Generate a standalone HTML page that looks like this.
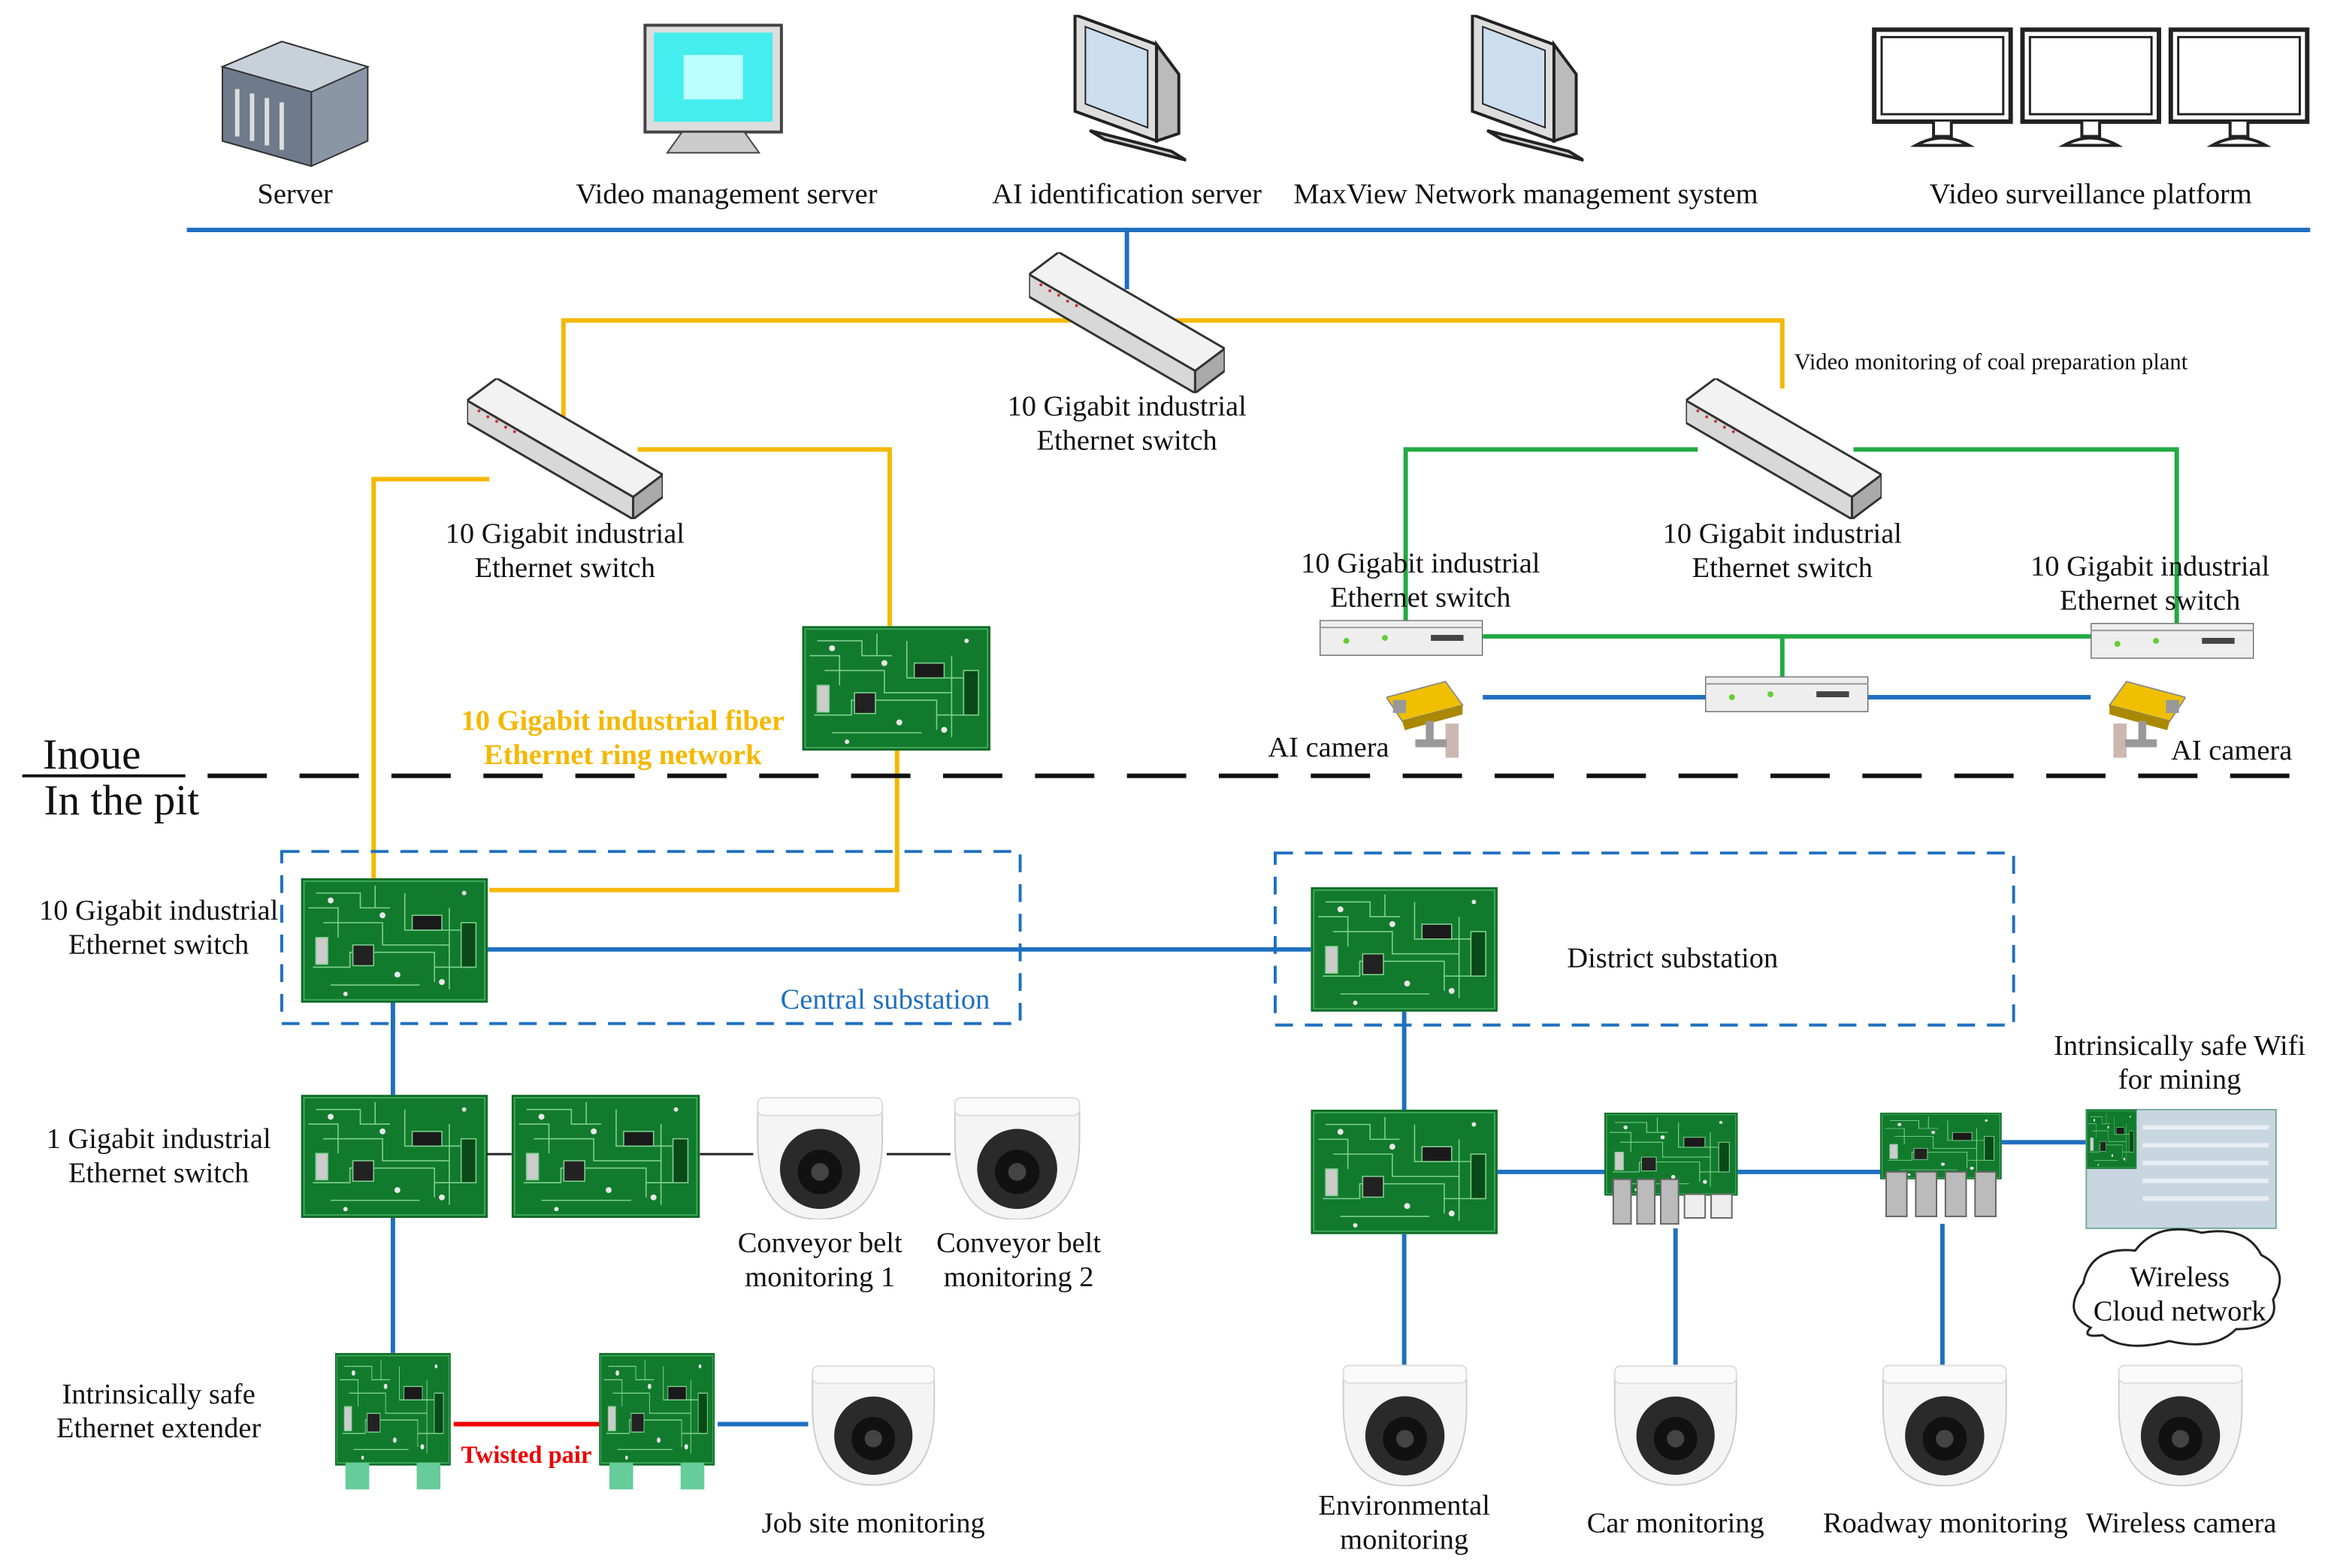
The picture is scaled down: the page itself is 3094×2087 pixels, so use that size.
<!DOCTYPE html>
<html><head><meta charset="utf-8"><style>
html,body{margin:0;padding:0;background:#fff}
svg{display:block}
text{font-family:"Liberation Serif",serif;font-size:19.5px;fill:#111}
</style></head><body>
<svg width="3094" height="2087" viewBox="0 0 1568 1057" preserveAspectRatio="none" xmlns="http://www.w3.org/2000/svg">
<defs>
<symbol id="pcb" viewBox="0 0 126 84" preserveAspectRatio="none">
<rect x="0" y="0" width="126" height="84" fill="#0e6b26"/>
<rect x="2" y="2" width="122" height="80" fill="#127a2d" stroke="#3fa85a" stroke-width="1"/>
<g stroke="#7fd08f" stroke-width="0.8" fill="none">
<path d="M10 10h30v10h20M15 30h40v15h30M8 60h25v-10h40M70 10v25h40M90 60h25M20 72h60M100 20v40M60 50h30v20M5 20h20v20M50 5v15M80 45h20v30"/>
<rect x="35" y="45" width="14" height="14" fill="#222"/>
<rect x="75" y="25" width="20" height="10" fill="#1a1a1a"/>
<rect x="10" y="40" width="8" height="18" fill="#ccc"/>
<rect x="108" y="30" width="10" height="30" fill="#0a4a18"/>
</g>
<g fill="#e8e8e8"><circle cx="20" cy="15" r="2"/><circle cx="55" cy="25" r="2"/><circle cx="95" cy="70" r="2"/><circle cx="65" cy="65" r="2"/><circle cx="30" cy="78" r="1.5"/><circle cx="110" cy="10" r="1.5"/></g>
</symbol>
<symbol id="sw3d" viewBox="0 0 132 95">
<polygon points="0,15 20,0 132,65 112,80" fill="#f2f2f2" stroke="#333" stroke-width="1.5"/>
<polygon points="0,15 112,80 112,95 0,30" fill="#d8d8d8" stroke="#333" stroke-width="1.5"/>
<polygon points="112,80 132,65 132,80 112,95" fill="#aaa" stroke="#333" stroke-width="1.5"/>
<g fill="#c33"><circle cx="8" cy="22" r="1"/><circle cx="14" cy="26" r="1"/><circle cx="20" cy="29" r="1"/><circle cx="26" cy="33" r="1"/><circle cx="32" cy="36" r="1"/></g>
</symbol>
<symbol id="flat" viewBox="0 0 110 24">
<rect x="0" y="0" width="110" height="24" fill="#eee" stroke="#555" stroke-width="1.2"/>
<line x1="0" y1="5" x2="110" y2="5" stroke="#999"/>
<circle cx="18" cy="14" r="2" fill="#6c3"/><circle cx="44" cy="12" r="2" fill="#6c3"/>
<rect x="75" y="10" width="22" height="4" fill="#444"/>
</symbol>
<symbol id="dome" viewBox="0 0 90 84">
<path d="M3 8 Q45 0 87 8 L87 30 Q87 84 45 84 Q3 84 3 30Z" fill="#f4f4f4" stroke="#ccc"/>
<rect x="3" y="2" width="84" height="12" rx="4" fill="#fafafa" stroke="#ddd"/>
<circle cx="45" cy="50" r="27" fill="#2a2a2a"/>
<circle cx="45" cy="52" r="15" fill="#111"/>
<circle cx="45" cy="52" r="6" fill="#444"/>
</symbol>
<symbol id="crt" viewBox="0 0 80 100">
<polygon points="5,0 60,20 60,85 5,65" fill="#ddd" stroke="#222" stroke-width="2"/>
<polygon points="12,8 54,24 54,76 12,60" fill="#cde" stroke="#222"/>
<polygon points="60,20 75,40 75,80 60,85" fill="#bbb" stroke="#222" stroke-width="2"/>
<polygon points="15,78 70,92 80,98 25,84" fill="#ccc" stroke="#222" stroke-width="2"/>
</symbol>
<symbol id="mon" viewBox="0 0 96 84">
<rect x="2" y="2" width="92" height="62" fill="#fff" stroke="#222" stroke-width="3"/>
<rect x="7" y="7" width="82" height="52" fill="#fff" stroke="#222" stroke-width="1.5"/>
<path d="M42 64v10h12v-10M30 80q18-10 36 0z" fill="#fff" stroke="#222" stroke-width="2"/>
</symbol>
<symbol id="cam" viewBox="0 0 70 60">
<polygon points="0,12 45,0 58,18 12,30" fill="#f0c000" stroke="#888"/>
<polygon points="12,30 58,18 58,25 14,37" fill="#aa8800"/>
<rect x="5" y="14" width="10" height="10" fill="#999"/>
<rect x="30" y="30" width="6" height="18" fill="#999"/>
<rect x="45" y="32" width="10" height="26" fill="#ccb8b0"/>
<rect x="22" y="44" width="24" height="6" fill="#999"/>
</symbol>
</defs>

<g>
<polygon points="150,45 190,28 248,45 248,95 210,112 150,95" fill="#8a96a6" stroke="#333"/>
<polygon points="150,45 210,62 248,45 190,28" fill="#c8d0da" stroke="#333"/>
<polygon points="150,45 210,62 210,112 150,95" fill="#6f7b8c" stroke="#333"/>
<g stroke="#ddd" stroke-width="3"><line x1="160" y1="60" x2="160" y2="92"/><line x1="170" y1="63" x2="170" y2="95"/><line x1="180" y1="66" x2="180" y2="98"/><line x1="190" y1="69" x2="190" y2="101"/></g>
</g>
<rect x="435" y="17" width="92" height="72" fill="#ddd" stroke="#444" stroke-width="2"/>
<rect x="441" y="22" width="80" height="60" fill="#4ee"/>
<rect x="461" y="37" width="40" height="30" fill="#bff"/>
<path d="M460 89h42l10 14h-62z" fill="#ccc" stroke="#444"/>
<use href="#crt" x="720" y="10" width="80" height="100"/>
<use href="#crt" x="988" y="10" width="80" height="100"/>
<use href="#mon" x="1262" y="18" width="96" height="84"/>
<use href="#mon" x="1362" y="18" width="96" height="84"/>
<use href="#mon" x="1462" y="18" width="96" height="84"/>

<g text-anchor="middle">
<text x="199" y="137">Server</text>
<text x="490" y="137">Video management server</text>
<text x="760" y="137">AI identification server</text>
<text x="1029" y="137">MaxView Network management system</text>
<text x="1410" y="137">Video surveillance platform</text>
</g>
<line x1="126" y1="155" x2="1558" y2="155" stroke="#1f6fc0" stroke-width="3"/>
<line x1="760" y1="155" x2="760" y2="195" stroke="#1f6fc0" stroke-width="3"/>

<g stroke="#f5b800" stroke-width="3" fill="none">
<polyline points="380,290 380,216 1202,216 1202,262"/>
<polyline points="330,323 252,323 252,592"/>
<polyline points="430,303 600,303 600,422"/>
<polyline points="605,505 605,600 330,600"/>
</g>
<g stroke="#22aa44" stroke-width="3" fill="none">
<polyline points="1145,303 948,303 948,418"/>
<polyline points="1250,303 1468,303 1468,420"/>
<line x1="1000" y1="429" x2="1410" y2="429"/>
<line x1="1202" y1="429" x2="1202" y2="456"/>
</g>
<use href="#sw3d" x="694" y="170" width="132" height="95"/>
<use href="#sw3d" x="315" y="255" width="132" height="95"/>
<use href="#sw3d" x="1137" y="255" width="132" height="95"/>
<g text-anchor="middle">
<text x="760" y="280">10 Gigabit industrial</text><text x="760" y="303">Ethernet switch</text>
<text x="381" y="366">10 Gigabit industrial</text><text x="381" y="389">Ethernet switch</text>
<text x="1202" y="366">10 Gigabit industrial</text><text x="1202" y="389">Ethernet switch</text>
<text x="958" y="386">10 Gigabit industrial</text><text x="958" y="409">Ethernet switch</text>
<text x="1450" y="388">10 Gigabit industrial</text><text x="1450" y="411">Ethernet switch</text>
</g>
<text x="1210" y="249" style="font-size:15.5px">Video monitoring of coal preparation plant</text>
<use href="#pcb" x="541" y="422" width="127" height="84"/>
<g text-anchor="middle">
<text x="420" y="492" style="fill:#f5b800;font-weight:bold">10 Gigabit industrial fiber</text>
<text x="420" y="515" style="fill:#f5b800;font-weight:bold">Ethernet ring network</text>
</g>
<use href="#flat" x="890" y="418" width="110" height="24"/>
<use href="#flat" x="1410" y="420" width="110" height="24"/>
<use href="#flat" x="1150" y="456" width="110" height="24"/>
<g stroke="#1f6fc0" stroke-width="3">
<line x1="1000" y1="470" x2="1150" y2="470"/><line x1="1260" y1="470" x2="1410" y2="470"/>
</g>
<use href="#cam" x="935" y="458" width="62" height="56"/>
<g transform="translate(1474,458) scale(-1,1)"><use href="#cam" x="0" y="0" width="62" height="56"/></g>
<text x="896" y="510" text-anchor="middle">AI camera</text>
<text x="1505" y="512" text-anchor="middle">AI camera</text>

<line x1="140" y1="523" x2="1562" y2="523" stroke="#111" stroke-width="3" stroke-dasharray="40,22"/>
<line x1="15" y1="523" x2="125" y2="523" stroke="#111" stroke-width="2"/>
<text x="62" y="518" text-anchor="middle" style="font-size:29px">Inoue</text>
<text x="82" y="549" text-anchor="middle" style="font-size:29px">In the pit</text>

<rect x="190" y="574" width="498" height="116" fill="none" stroke="#1f6fc0" stroke-width="2" stroke-dasharray="12,8"/>
<rect x="860" y="575" width="498" height="116" fill="none" stroke="#1f6fc0" stroke-width="2" stroke-dasharray="12,8"/>
<g stroke="#1f6fc0" stroke-width="3" fill="none">
<line x1="328" y1="640" x2="884" y2="640"/>
<line x1="265" y1="675" x2="265" y2="740"/>
<line x1="265" y1="820" x2="265" y2="912"/>
<line x1="484" y1="960" x2="545" y2="960"/>
<line x1="947" y1="682" x2="947" y2="750"/>
<line x1="1010" y1="790" x2="1082" y2="790"/>
<line x1="1172" y1="790" x2="1268" y2="790"/>
<line x1="1350" y1="770" x2="1407" y2="770"/>
<line x1="947" y1="832" x2="947" y2="920"/>
<line x1="1130" y1="828" x2="1130" y2="920"/>
<line x1="1310" y1="825" x2="1310" y2="920"/>
</g>
<use href="#pcb" x="203" y="592" width="126" height="84"/>
<use href="#pcb" x="884" y="598" width="126" height="84"/>
<text x="107" y="620" text-anchor="middle">10 Gigabit industrial</text>
<text x="107" y="643" text-anchor="middle">Ethernet switch</text>
<text x="597" y="680" text-anchor="middle" style="fill:#1f6fc0">Central substation</text>
<text x="1128" y="652" text-anchor="middle">District substation</text>

<use href="#pcb" x="203" y="738" width="126" height="83"/>
<use href="#pcb" x="345" y="738" width="127" height="83"/>
<g stroke="#222" stroke-width="1.5"><line x1="328" y1="778" x2="345" y2="778"/><line x1="472" y1="778" x2="508" y2="778"/><line x1="598" y1="778" x2="641" y2="778"/></g>
<use href="#dome" x="508" y="738" width="90" height="84"/>
<use href="#dome" x="641" y="738" width="90" height="84"/>
<g text-anchor="middle">
<text x="107" y="774">1 Gigabit industrial</text><text x="107" y="797">Ethernet switch</text>
<text x="553" y="844">Conveyor belt</text><text x="553" y="867">monitoring 1</text>
<text x="687" y="844">Conveyor belt</text><text x="687" y="867">monitoring 2</text>
<text x="107" y="946">Intrinsically safe</text><text x="107" y="969">Ethernet extender</text>
</g>
<use href="#pcb" x="226" y="912" width="78" height="76"/>
<rect x="233" y="986" width="16" height="18" fill="#6c9"/><rect x="281" y="986" width="16" height="18" fill="#6c9"/>
<use href="#pcb" x="404" y="912" width="78" height="76"/>
<rect x="411" y="986" width="16" height="18" fill="#6c9"/><rect x="459" y="986" width="16" height="18" fill="#6c9"/>
<line x1="306" y1="960" x2="404" y2="960" stroke="#e00" stroke-width="3"/>
<text x="355" y="986" text-anchor="middle" style="fill:#e00;font-weight:bold;font-size:16.5px">Twisted pair</text>
<use href="#dome" x="545" y="918" width="88" height="84"/>
<text x="589" y="1033" text-anchor="middle">Job site monitoring</text>

<use href="#pcb" x="884" y="748" width="126" height="84"/>
<use href="#pcb" x="1082" y="750" width="90" height="56"/>
<g fill="#bbb" stroke="#666"><rect x="1088" y="795" width="12" height="30"/><rect x="1104" y="795" width="12" height="30"/><rect x="1120" y="795" width="12" height="30"/><rect x="1136" y="805" width="14" height="16" fill="#eee"/><rect x="1154" y="805" width="14" height="16" fill="#eee"/></g>
<use href="#pcb" x="1268" y="750" width="82" height="45"/>
<g fill="#bbb" stroke="#666"><rect x="1272" y="790" width="14" height="30"/><rect x="1292" y="790" width="14" height="30"/><rect x="1312" y="790" width="14" height="30"/><rect x="1332" y="790" width="14" height="30"/></g>
<rect x="1407" y="748" width="128" height="80" fill="#c8d6e0" stroke="#7a9"/>
<use href="#pcb" x="1407" y="748" width="34" height="40"/>
<g stroke="#e8eef2" stroke-width="3"><line x1="1445" y1="760" x2="1530" y2="760"/><line x1="1445" y1="772" x2="1530" y2="772"/><line x1="1445" y1="784" x2="1530" y2="784"/><line x1="1445" y1="796" x2="1530" y2="796"/><line x1="1445" y1="808" x2="1530" y2="808"/></g>
<text x="1470" y="711" text-anchor="middle">Intrinsically safe Wifi</text>
<text x="1470" y="734" text-anchor="middle">for mining</text>
<path d="M1410 895 q-20-10 -5-30 q5-25 35-22 q15-20 45-12 q30-5 40 15 q20 10 8 30 q5 20-25 20 q-15 15-45 8 q-30 8-45-4 q-15 2-8-5z" fill="#fff" stroke="#222" stroke-width="1.5"/>
<text x="1470" y="867" text-anchor="middle">Wireless</text>
<text x="1470" y="890" text-anchor="middle">Cloud network</text>
<use href="#dome" x="903" y="918" width="89" height="84"/>
<use href="#dome" x="1086" y="918" width="88" height="84"/>
<use href="#dome" x="1267" y="918" width="89" height="84"/>
<use href="#dome" x="1426" y="918" width="89" height="84"/>
<g text-anchor="middle">
<text x="947" y="1021">Environmental</text><text x="947" y="1044">monitoring</text>
<text x="1130" y="1033">Car monitoring</text>
<text x="1312" y="1033">Roadway monitoring</text>
<text x="1471" y="1033">Wireless camera</text>
</g>
</svg>
</body></html>
